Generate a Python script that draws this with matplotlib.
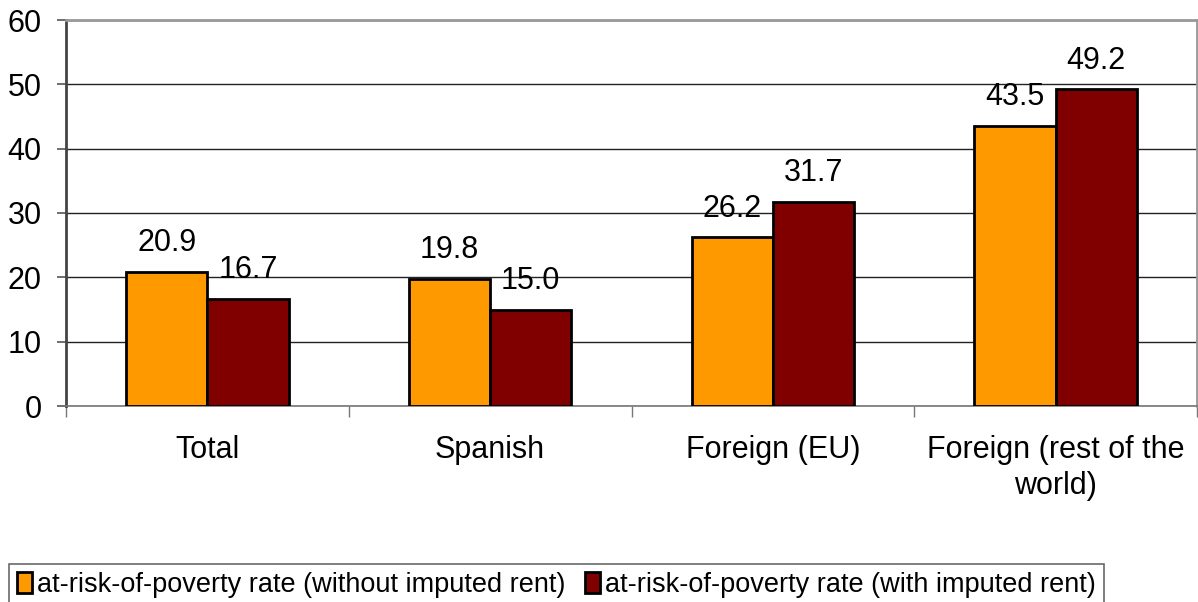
import matplotlib.pyplot as plt
import numpy as np

plt.rcParams['font.family'] = ['Liberation Sans', 'DejaVu Sans']

categories = ['Total', 'Spanish', 'Foreign (EU)', 'Foreign (rest of the\nworld)']
without_rent = [20.9, 19.8, 26.2, 43.5]
with_rent = [16.7, 15.0, 31.7, 49.2]
series_labels = ['at-risk-of-poverty rate (without imputed rent)',
                 'at-risk-of-poverty rate (with imputed rent)']

ORANGE = '#FF9900'
DARK_RED = '#800000'
FS = 22

fig = plt.figure(figsize=(11.98, 6.02), dpi=100)
ax = fig.add_axes([66 / 1198, 1 - 406 / 602, (1197 - 66) / 1198, (406 - 20) / 602])

x = np.arange(len(categories))
w = 0.287
b1 = ax.bar(x - w / 2, without_rent, w, color=ORANGE, edgecolor='black', linewidth=2,
            label=series_labels[0], zorder=3)
b2 = ax.bar(x + w / 2, with_rent, w, color=DARK_RED, edgecolor='black', linewidth=2,
            label=series_labels[1], zorder=3)

for bars, vals in ((b1, without_rent), (b2, with_rent)):
    for rect, v in zip(bars, vals):
        ax.annotate(f'{v:.1f}', (rect.get_x() + rect.get_width() / 2, v),
                    xytext=(0, 10), textcoords='offset points',
                    ha='center', va='bottom', fontsize=FS)

ax.set_xlim(-0.5, len(categories) - 0.5)
ax.set_ylim(0, 60)
ax.set_yticks(range(0, 61, 10))
ax.tick_params(axis='y', labelsize=FS, length=6.5, width=1.2, color='#555555', pad=11)

# category labels sit under the centre, separators are minor ticks
ax.set_xticks(x)
ax.set_xticklabels(categories, fontsize=FS, linespacing=1.25)
ax.tick_params(axis='x', which='major', length=0, pad=21)
ax.set_xticks(np.arange(-0.5, len(categories), 1.0), minor=True)
ax.tick_params(axis='x', which='minor', length=8, width=1, color='#777777')

ax.yaxis.grid(True, color='#222222', linewidth=1, zorder=0)
ax.set_axisbelow(True)
ax.spines['left'].set_color('#444444')
ax.spines['left'].set_linewidth(2)
ax.spines['bottom'].set_color('#777777')
ax.spines['bottom'].set_linewidth(1.2)
for s in ('top', 'right'):
    ax.spines[s].set_color('#999999')
    ax.spines[s].set_linewidth(2)

leg = fig.legend(handles=[b1, b2], loc='upper left',
                 bbox_to_anchor=(9 / 1198, 1 - 564 / 602), ncol=2, fontsize=19.5,
                 frameon=True, fancybox=False, edgecolor='#444444',
                 handlelength=0.55, handleheight=0.8, handletextpad=0.2,
                 columnspacing=0.7, borderpad=0.3, borderaxespad=0)
leg.get_frame().set_linewidth(1.2)

fig.savefig('out.png', dpi=100)
